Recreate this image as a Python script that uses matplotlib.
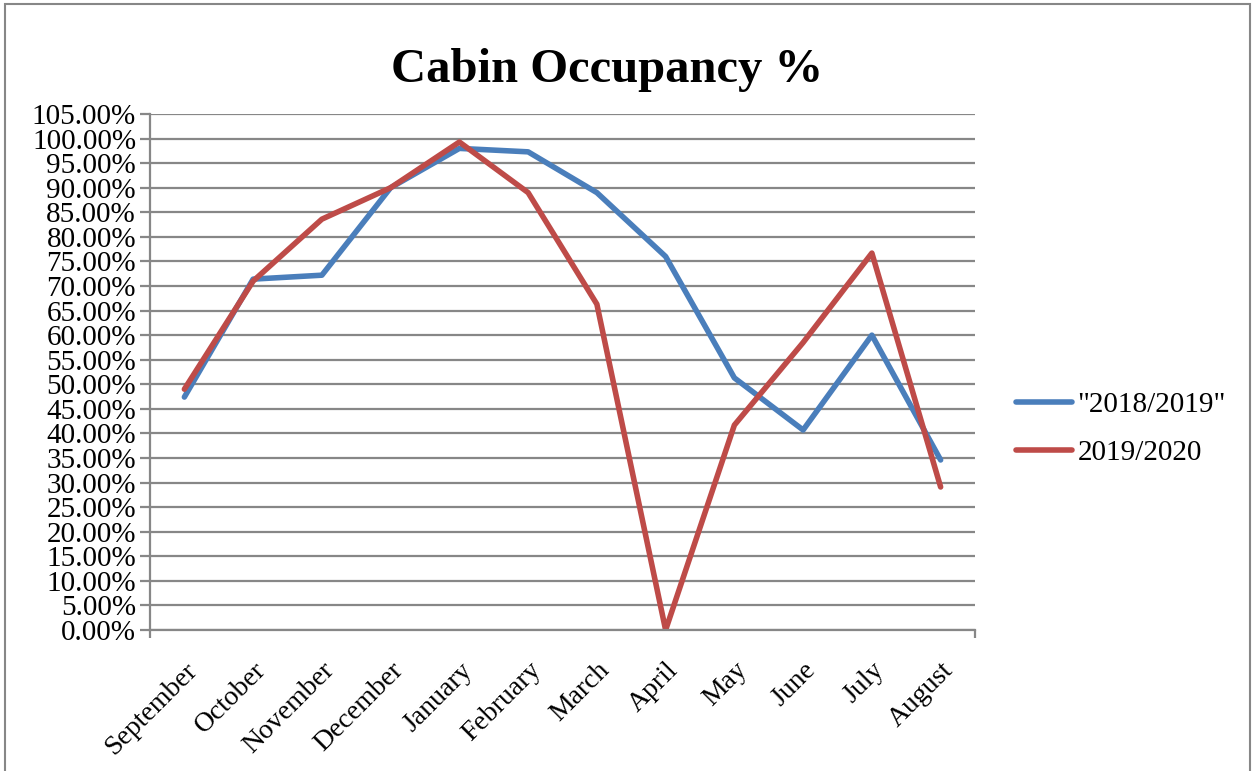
import matplotlib
matplotlib.use('Agg')
import matplotlib.pyplot as plt
from matplotlib.ticker import FuncFormatter, MultipleLocator, FixedLocator
from matplotlib.patches import Rectangle

months = ['September', 'October', 'November', 'December', 'January', 'February',
          'March', 'April', 'May', 'June', 'July', 'August']
occ_2018_2019 = [47.4, 71.4, 72.2, 90.0, 98.0, 97.3, 89.0, 76.0, 51.3, 40.7, 60.0, 34.6]
occ_2019_2020 = [49.0, 71.0, 83.6, 90.0, 99.3, 89.0, 66.3, 0.0, 41.7, 58.5, 76.7, 29.1]
series_labels = ['"2018/2019"', '2019/2020']

blue = '#4a7ebb'
red = '#be4b48'
grey = '#878787'

plt.rcParams['font.family'] = ['Liberation Serif', 'DejaVu Serif']

fig = plt.figure(figsize=(12.53, 7.71), dpi=100)
ax = fig.add_axes([150 / 1253, 1 - 630 / 771, 825 / 1253, 516 / 771])

x = list(range(len(months)))
ax.plot(x, occ_2018_2019, color=blue, lw=4, label=series_labels[0], solid_capstyle='round')
ax.plot(x, occ_2019_2020, color=red, lw=4, label=series_labels[1], solid_capstyle='round')

ax.set_xlim(-0.5, len(months) - 0.5)
ax.set_ylim(0, 105)
ax.yaxis.set_major_locator(MultipleLocator(5))
ax.yaxis.set_major_formatter(FuncFormatter(lambda v, p: '%.2f%%' % v))
ax.grid(axis='y', color=grey, lw=1.6)
ax.set_axisbelow(True)

ax.set_xticks(x)
ax.set_xticklabels(months, rotation=45, ha='right', va='top', rotation_mode='anchor')
ax.xaxis.set_minor_locator(FixedLocator([-0.5, len(months) - 0.5]))
ax.tick_params(axis='x', which='major', length=0, pad=20, labelsize=20)
ax.tick_params(axis='x', which='minor', length=6, width=1.6, color=grey)
ax.tick_params(axis='y', length=7, width=1.6, color=grey, labelsize=21, pad=3)

for side in ['top', 'right']:
    ax.spines[side].set_visible(False)
for side in ['left', 'bottom']:
    ax.spines[side].set_color(grey)
    ax.spines[side].set_linewidth(1.6)

fig.text(607 / 1253, 1 - 70 / 771, 'Cabin Occupancy %', ha='center', va='center',
         fontsize=35, fontweight='bold')

ax.legend(loc='center left', bbox_to_anchor=(990 / 1253, 1 - 429 / 771),
          bbox_transform=fig.transFigure, frameon=False, fontsize=21,
          handlelength=1.9, handletextpad=0.2, labelspacing=0.75)

fig.patches.append(Rectangle((5 / 1253, -0.01), 1245 / 1253, 1 - 4 / 771 + 0.01,
                             transform=fig.transFigure, fill=False,
                             edgecolor=grey, lw=1.5))

fig.savefig('out.png', dpi=100)
